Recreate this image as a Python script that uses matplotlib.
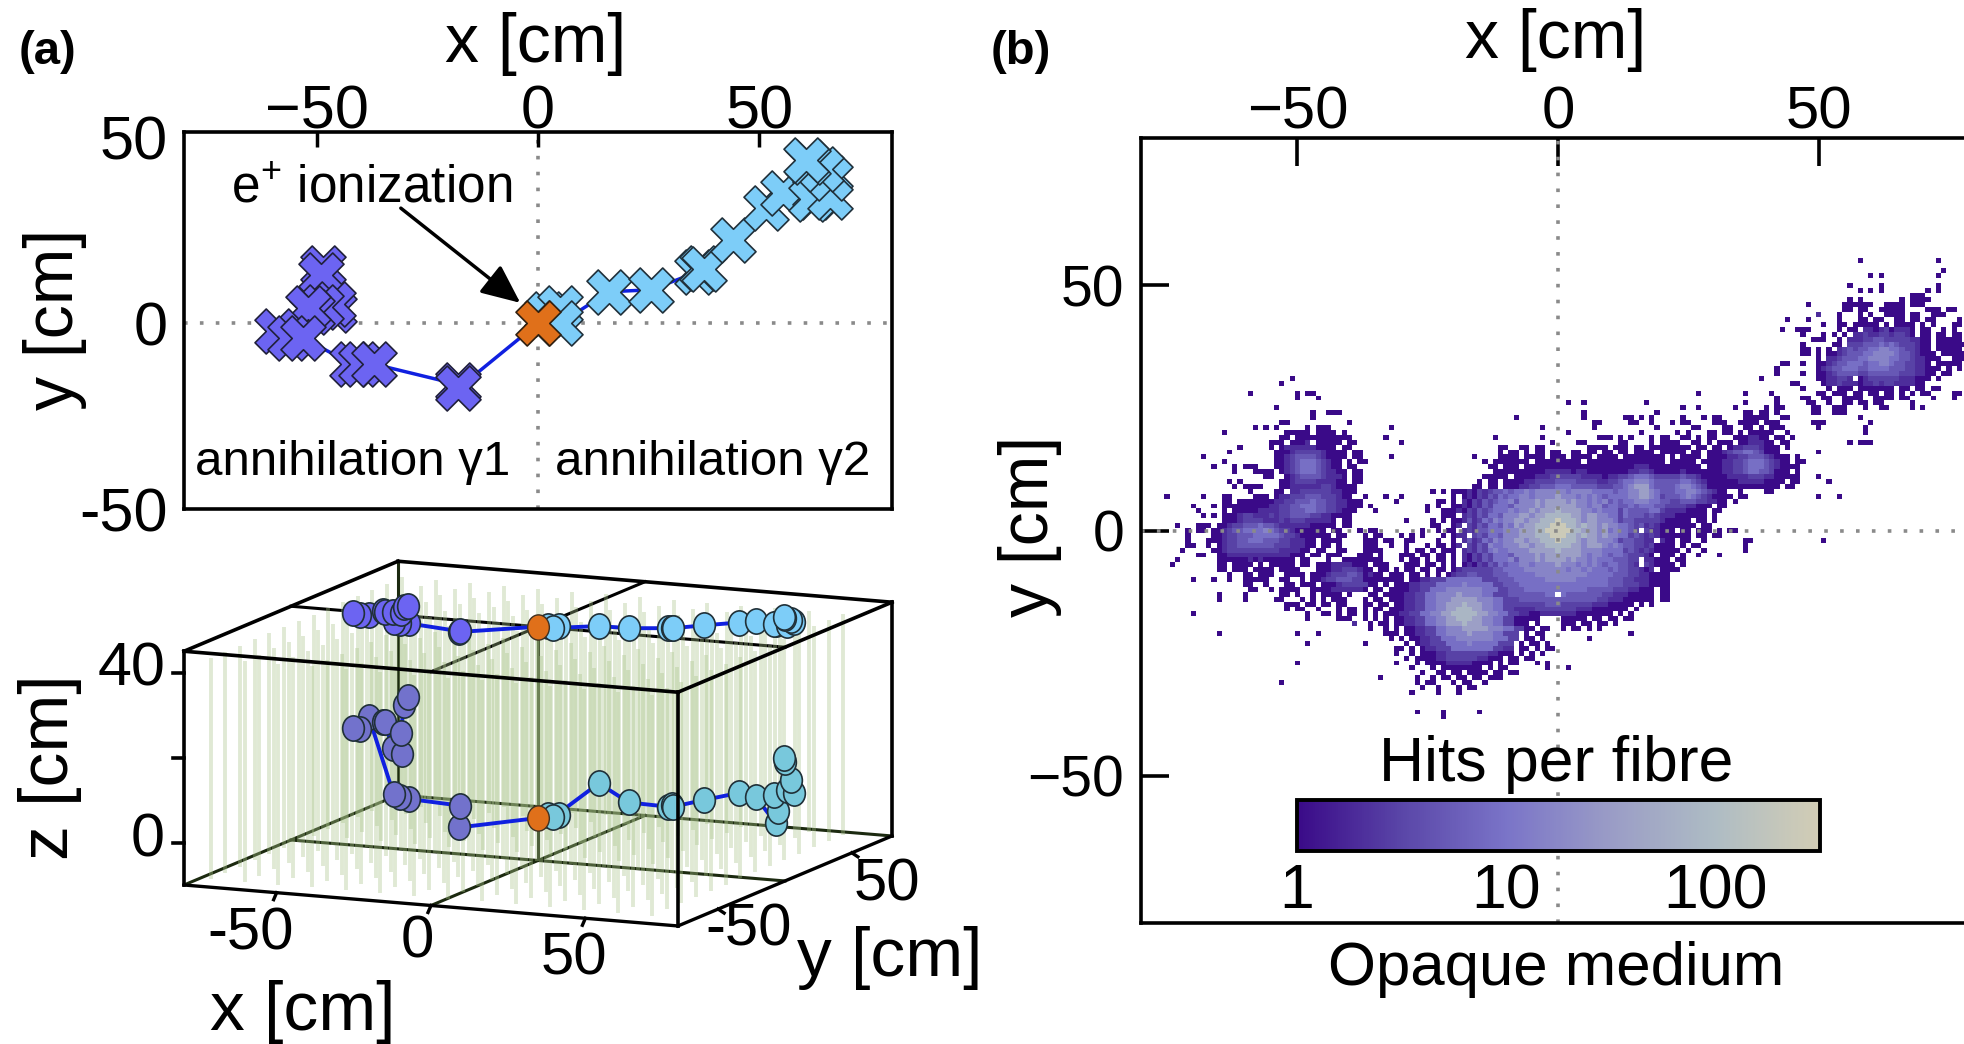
#!/usr/bin/env python3
# -*- coding: utf-8 -*-
import matplotlib
matplotlib.use('Agg')
import matplotlib.pyplot as plt
import numpy as np
from matplotlib.colors import LinearSegmentedColormap, LogNorm
from matplotlib.markers import MarkerStyle
from matplotlib.transforms import Affine2D

plt.rcParams['font.family'] = ['Liberation Sans', 'DejaVu Sans']
plt.rcParams['mathtext.default'] = 'regular'

W, H = 1965, 1044

# Photon tracks: x, y, z [cm]. Top view uses x and y, 3D view uses all three
orange_xyz = [0, 0, 0]
g1_x = [-18, -18, -37, -40, -42, -53, -56, -59, -52, -51, -49, -46.3, -46, -49, -48.5]
g1_y = [-17.5, -16.5, -11, -11, -11, -4, -4, -2, 4, 3, 4.4, 5.3, 3.5, 13, 14.8]
g1_z = [-1, 4, 3.7, 4, 4.5, 21, 18, 18, 19, 19, 13, 11.5, 16.7, 22, 23.5]
g2_x = [2, 5, 5, 16, 25.5, 36, 37, 37.5, 44, 51.6, 55.4, 62.3, 62.5, 61.8, 66, 66, 64, 61, 60.5]
g2_y = [2.5, 4, 0, 8.5, 9, 13.8, 15, 14.5, 22.5, 31, 35, 34, 35, 33.5, 34, 39, 41.6, 43.5, 44]
g2_z = [0.5, 0.5, 0.5, 8, 4, 3, 3.3, 3, 3.9, 4.9, 3.6, -2, 0.7, 4.6, 6, 4.7, 7.3, 11, 12]

# Fibre positions in the 3D view
fibre_x = [-74, -63, -52, -41, -30, -19, -8, 3, 14, 25, 36, 47, 58, 69]
fibre_y = [-74, -63, -52, -41, -30, -19, -8, 3, 14, 25, 36, 47, 58, 69]

# Hits per fibre: level index -> number of hits
hit_levels = [1, 1, 2, 3, 5, 9, 16, 35, 80, 250]

# Map of panel (b), read row by row: (y, first x, levels), '.' = no hits
heat_rows = [
    # upper right cloud
    (55, 58, '0'), (55, 73, '0'), (53, 74, '0'), (52, 60, '0.0'), (52, 73, '0'),
    (50, 56, '0'), (50, 62, '0'), (50, 73, '0'), (49, 58, '0.0.0'), (49, 71, '0.0'),
    (48, 68, '000'), (47, 56, '0.0'), (47, 66, '0.0000'),
    (46, 48, '0'), (46, 55, '000100'), (46, 63, '0000'), (46, 68, '000'),
    (45, 55, '00.00'), (45, 62, '00010'), (45, 71, '000'), (45, 75, '00'),
    (44, 50, '2'), (44, 54, '0'), (44, 58, '0.0'), (44, 63, '0110.00'), (44, 72, '000'),
    (43, 44, '0'), (43, 48, '0'), (43, 54, '0'), (43, 58, '00.00'), (43, 65, '01.00.00'), (43, 77, '0'),
    (42, 51, '0'), (42, 54, '00'), (42, 57, '00010.1.0010.0'), (42, 72, '0.'), (42, 76, '00'),
    (41, 43, '0'), (41, 46, '000'), (41, 54, '0.11.2212312221.10'), (41, 74, '0.0'),
    (40, 47, '1'), (40, 51, '0.0.1.223223323321.11.00.00'),
    (39, 49, '000'), (39, 54, '0.2223344333332211.10000.0'),
    (38, 47, '0'), (38, 53, '01.3334445454333211.00000'), (38, 78, '0'),
    (37, 47, '00.0'), (37, 52, '1.234344556655433211'), (37, 73, '00000'),
    (36, 47, '00.0.012344455666654432110.00000.0'),
    (35, 50, '1.2234445566665544322110'), (35, 76, '000'),
    (34, 43, '00'), (34, 47, '0'), (34, 50, '1123445554556654433221.00000'),
    (33, 42, '0'), (33, 50, '123445554455554443322100.0.0'),
    (32, 42, '0'), (32, 47, '0'), (32, 50, '11234444334444443332211.00'),
    (31, -51, '0'), (31, 39, '0'), (31, 50, '1122332.12333333222110.0'),
    (30, -53, '0'), (30, 45, '00'), (30, 51, '12232221223233222211'),
    (29, 47, '0'), (29, 52, '0.011.0011011.00.00.00'),
    (28, -59, '0'), (28, -50, '0.00'), (28, 27, '0'), (28, 36, '0'), (28, 41, '0'), (28, 50, '00.000.01.00.00.0.0.00'), (28, 76, '00'),
    (27, -50, '0'), (27, -46, '0'), (27, 42, '0'), (27, 47, '00'), (27, 51, '00'), (27, 55, '0000'), (27, 61, '0000.00'), (27, 72, '0'), (27, 76, '0'),
    (26, 2, '0'), (26, 5, '0'), (26, 17, '0'), (26, 36, '0'), (26, 42, '0'), (26, 48, '00'), (26, 52, '0'), (26, 55, '00.00'), (26, 61, '00'), (26, 68, '0'),
    (25, -54, '0'), (25, 24, '1'), (25, 27, '0'), (25, 34, '1'), (25, 40, '0'), (25, 42, '00'), (25, 49, '00'), (25, 53, '000'), (25, 59, '0'), (25, 62, '00'), (25, 68, '0'), (25, 70, '0'),
    (24, -47, '0'), (24, -44, '000'), (24, 5, '0'), (24, 19, '0'), (24, 36, '00.00'), (24, 42, '0'), (24, 49, '00'), (24, 53, '000'),
    (23, -47, '0'), (23, -8, '0'), (23, 5, '0'), (23, 13, '00'), (23, 16, '0.0'), (23, 24, '0'), (23, 28, '0.00'), (23, 36, '00100'), (23, 43, '00'), (23, 58, '0'),
    (22, -53, '00'), (22, -40, '0'), (22, 7, '00'), (22, 14, '00'), (22, 18, '0'), (22, 22, '0.00'), (22, 30, '000'), (22, 35, '0010.000'), (22, 49, '000'), (22, 60, '0'),
    (21, -58, '0'), (21, -56, '0'), (21, -54, '0'), (21, -48, '0'), (21, -46, '000'), (21, -32, '0'), (21, -3, '0'), (21, 7, '0'), (21, 19, '1'), (21, 26, '00'), (21, 32, '00'), (21, 36, '00.1.000'), (21, 50, '0'), (21, 59, '0'),
    (20, -64, '0'), (20, -52, '000'), (20, -49, '00'), (20, -46, '0000'), (20, -41, '1'), (20, 2, '0'), (20, 16, '0'), (20, 23, '0.0'), (20, 29, '00.00'), (20, 35, '0.11100'), (20, 44, '0'), (20, 59, '0'),
    (19, -53, '00.0000'), (19, -46, '0010100'), (19, -33, '0'), (19, -12, '0'), (19, -3, '0'), (19, 8, '000'), (19, 12, '0.0'), (19, 18, '0.00'), (19, 24, '00.0.00'), (19, 34, '0112211.00'), (19, 45, '0'),
    (18, -55, '000.1112.10100.00'), (18, -30, '0'), (18, -1, '0'), (18, 4, '00'), (18, 12, '00'), (18, 18, '0.00'), (18, 22, '00'), (18, 26, '00.0.001'), (18, 35, '0122210'), (18, 43, '00'), (18, 56, '0'), (18, 58, '000'),

    # left clusters and the dark fringe above the centre
    (17, -61, '0'), (17, -55, '0.12222221100.00'), (17, -11, '00'), (17, -7, '00'), (17, -4, '00'), (17, 6, '0000'), (17, 11, '000.00.00100110'), (17, 27, '00'), (17, 30, '00.1223332100'), (17, 44, '0'),
    (16, -63, '0'), (16, -54, '00123333321100.00'), (16, -11, '0.0'), (16, -8, '0.0.00.00'), (16, 3, '00.00.00.11.00'), (16, 17, '01.01000.00'), (16, 29, '00123445543100'), (16, 50, '0'),
    (15, -68, '0'), (15, -54, '01234444321000.00'), (15, -32, '0'), (15, -16, '0'), (15, -11, '00'), (15, -9, '00.0000.00'), (15, 1, '0.0010.010'), (15, 11, '0.10011101.0'), (15, 23, '.0100.00'), (15, 31, '012233'), (15, 37, '444'), (15, 40, '32100.0'),
    (14, -64, '0'), (14, -54, '0123455543210.0.0'), (14, -37, '0'), (14, -14, '0.00000'), (14, -8, '000.00100'), (14, 1, '0001.00100'), (14, 11, '0010111100.1'), (14, 23, '0011.010'), (14, 31, '122334'), (14, 37, '555'), (14, 40, '43210.00'),
    (13, -66, '0'), (13, -62, '0'), (13, -60, '000'), (13, -54, '0123455543210.00'), (13, -13, '00.00'), (13, -8, '0.0011011'), (13, 1, '1101101100'), (13, 11, '101122211101'), (13, 23, '11110.01'), (13, 31, '122334'), (13, 37, '555'), (13, 40, '4321000'),
    (12, -62, '0'), (12, -58, '0000'), (12, -53, '1234555432210.00'), (12, -12, '0000'), (12, -8, '000111222'), (12, 1, '2212211101'), (12, 11, '111223321111'), (12, 23, '12111001'), (12, 31, '122334'), (12, 37, '554'), (12, 40, '43110.0'),
    (11, -56, '00'), (11, -52, '123444432221.00'), (11, -14, '00000.'), (11, -8, '001122233'), (11, 1, '3333222212'), (11, 11, '233455543333'), (11, 23, '34332111'), (11, 31, '112222'), (11, 37, '333'), (11, 40, '2211000'), (11, 50, '0'),
    (10, -63, '0'), (10, -61, '0'), (10, -53, '0123333222211.00'), (10, -15, '0.00.00'), (10, -8, '012233334'), (10, 1, '4443333223'), (10, 11, '345566654444'), (10, 23, '45543211'), (10, 31, '111122'), (10, 37, '222'), (10, 40, '1100.00'), (10, 52, '0'),
    (9, -62, '0'), (9, -60, '000'), (9, -57, '0'), (9, -53, '012222223321100'), (9, -16, '00.00.00'), (9, -8, '122334445'), (9, 1, '5544444333'), (9, 11, '445677754444'), (9, 23, '56654311'), (9, 31, '011111'), (9, 37, '111'), (9, 40, '000.00'),
    (8, -59, '0'), (8, -54, '00.2233333322100'), (8, -24, '0.0'), (8, -20, '011213234454556566666'), (8, 1, '656666555545566776544'), (8, 22, '45566543210..0'), (8, 40, '00'),
    (7, -75, '0'), (7, -68, '0'), (7, -64, '00'), (7, -58, '000.122333444333210'), (7, -37, '0'), (7, -33, '0'), (7, -30, '0'), (7, -20, '1.1213243545566566667'), (7, 1, '666565654555566776534'), (7, 22, '445654321000.00'), (7, 50, '0'), (7, 54, '0'),
    (6, -64, '00.0000'), (6, -57, '00122334445443322100'), (6, -31, '0'), (6, -23, '00'), (6, -20, '1.2132434556466676777'), (6, 1, '767665656454556665544'), (6, 22, '33444332210.0'),
    (5, -70, '0'), (5, -66, '0'), (5, -64, '0000100'), (5, -57, '01223344555443322100'), (5, -36, '0'), (5, -25, '0'), (5, -23, '0'), (5, -20, '102132435554666676777'), (5, 1, '777665664554454555443'), (5, 22, '33322110.00'),
    (4, -69, '0'), (4, -64, '0.01111'), (4, -57, '2222334445544332100'), (4, -35, '0'), (4, -25, '0'), (4, -22, '00'), (4, -20, '120324345556566767778'), (4, 1, '777766565553544445532'), (4, 22, '2221100.00'),
    (3, -68, '0'), (3, -66, '0'), (3, -64, '00123322'), (3, -56, '23233444433221000'), (3, -22, '00'), (3, -20, '1.2324355466677677888'), (3, 1, '887767766553544434322'), (3, 22, '2111000.0'),
    (2, -64, '00123333'), (2, -56, '22232333222221.00'), (2, -29, '0'), (2, -24, '0.0'), (2, -20, '112423546566776778889'), (2, 1, '888767766653443333321'), (2, 22, '1100.00.0'),
    (1, -73, '0'), (1, -69, '000'), (1, -65, '012334445'), (1, -56, '44322222211110.00'), (1, -24, '00.'), (1, -20, '12.324355465767788899'), (1, 1, '988787767665543423211'), (1, 22, '11100.00'),
    (0, -71, '0'), (0, -69, '00'), (0, -66, '01234455556'), (0, -55, '54332111110.00'), (0, -38, '0.00'), (0, -26, '0'), (0, -23, '0.0'), (0, -20, '1.2324455566677788999'), (0, 1, '998877767565543.32211'), (0, 22, '1.00.000.0.00'),
    (-1, -71, '0'), (-1, -66, '0123344455555'), (-1, -53, '4332111111.10'), (-1, -37, '0.00'), (-1, -30, '0'), (-1, -28, '0'), (-1, -26, '0'), (-1, -22, '0.'), (-1, -20, '122.34355466677788899'), (-1, 1, '988787767665534323201'), (-1, 22, '1000.00.'), (-1, 30, '00'),
    (-2, -71, '0'), (-2, -67, '00123344555'), (-2, -56, '4443322211.00'), (-2, -43, '00'), (-2, -37, '000'), (-2, -33, '00'), (-2, -29, '00'), (-2, -23, '0'), (-2, -20, '1.2423546566776778889'), (-2, 1, '888767766653443322.21'), (-2, 22, '0.00'), (-2, 28, '0'), (-2, 36, '00'), (-2, 51, '0'),
    (-3, -71, '00'), (-3, -67, '0.12334444'), (-3, -57, '44433322211.00'), (-3, -42, '0'), (-3, -37, '000'), (-3, -32, '1'), (-3, -29, '0'), (-3, -25, '0.00'), (-3, -20, '02.324365566677677888'), (-3, 1, '887767776565443323110'), (-3, 22, '0.0.00'), (-3, 36, '0'),
    (-4, -72, '0'), (-4, -66, '012333333'), (-4, -57, '3333222211.00'), (-4, -42, '00'), (-4, -37, '0000'), (-4, -29, '0'), (-4, -27, '00'), (-4, -24, '0.00'), (-4, -20, '1.2324356556666777778'), (-4, 1, '777766665555343232101'), (-4, 22, '00.0'), (-4, 28, '0'), (-4, 36, '0'),
    (-5, -69, '11'), (-5, -65, '01222222'), (-5, -57, '222222111.00'), (-5, -44, '00'), (-5, -42, '0'), (-5, -38, '000'), (-5, -34, '0'), (-5, -30, '000'), (-5, -26, '00'), (-5, -23, '00.'), (-5, -20, '1.2132435554666676777'), (-5, 1, '777765665455433321.11'), (-5, 22, '0.0'), (-5, 27, '0'), (-5, 31, '0'),
    (-6, -73, '0'), (-6, -65, '0011112'), (-6, -58, '12111111.00'), (-6, -44, '0'), (-6, -41, '001100'), (-6, -35, '00'), (-6, -30, '0.00'), (-6, -25, '0.00'), (-6, -20, '0.2132435556466676777'), (-6, 1, '767665655544433.22110'), (-6, 22, '.0'), (-6, 24, '0'),
    (-7, -74, '0'), (-7, -65, '00.0011'), (-7, -57, '1.00100'), (-7, -49, '00'), (-7, -46, '0012222100'), (-7, -35, '000'), (-7, -29, '000'), (-7, -25, '00'), (-7, -22, '0.'), (-7, -20, '1.1213243545566566667'), (-7, 1, '666565654554432.32101'), (-7, 22, '0.0'),

    # lower band joining the centre and the lower cluster
    (-8, -65, '00.00'), (-8, -60, '0.1010'), (-8, -53, '0000'), (-8, -46, '00122333221.00'), (-8, -37, '00.0..0.00.00.00.'), (-8, -20, '123333334455556666666'), (-8, 1, '656656555454433212.10'), (-8, 22, '00'),
    (-9, -63, '0'), (-9, -60, '00'), (-9, -57, '000'), (-9, -52, '0000'), (-9, -47, '00123334433210.00'), (-9, -37, '0.00.000.00.0.0.1'), (-9, -20, '233443334445555566666'), (-9, 1, '666665555544433221100'),
    (-10, -70, '0'), (-10, -66, '1'), (-10, -63, '1'), (-10, -60, '000'), (-10, -57, '00'), (-10, -53, '00'), (-10, -49, '0.01233444332100.0'), (-10, -37, '0.0.0.00.01223335'), (-10, -20, '555555333444555555666'), (-10, 1, '666555555444332221000'),
    (-11, -60, '00'), (-11, -56, '0'), (-11, -52, '00.000'), (-11, -45, '00123333322.0'), (-11, -37, '.00.0.00122333555556555553344455555555'), (-11, 1, '555555555444333221000'),
    (-12, -59, '00'), (-12, -55, '0.0000'), (-12, -47, '00112222221.'), (-12, -37, '0.00.001122335556666666555334445555555'), (-12, 1, '555554444433322110.00'),
    (-13, -65, '0'), (-13, -60, '0'), (-13, -53, '00.0'), (-13, -47, '0'), (-13, -45, '0111.1'), (-13, -37, '.00.00112233556666766665533344444 4455'.replace(' ', '')), (-13, 1, '544444443322211100.00'),
    (-14, -65, '0'), (-14, -60, '0'), (-14, -54, '00'), (-14, -49, '0.0'), (-14, -45, '0.000'), (-14, -37, '0.00.011223355666777776665533344444444'), (-14, 1, '444444433222111000.00'),
    (-15, -52, '000'), (-15, -48, '00'), (-15, -45, '00.00'), (-15, -37, '00.00.11223355667778777665533333333444'), (-15, 1, '33333322211100.0.0'),
    (-16, -52, '0.00'), (-16, -46, '0'), (-16, -42, '0.00'), (-16, -37, '0.00.011223355667788877665533222233333'), (-16, 1, '3332221110000.0'),
    (-17, -70, '0'), (-17, -48, '0'), (-17, -45, '00'), (-17, -42, '0.00'), (-17, -37, '0.0.0112233556677888887766553322112222'), (-17, 1, '2221110000.0.0'),
    (-18, -48, '0'), (-18, -42, '000'), (-18, -37, '0.0.0.1122335566778887766553311111'), (-18, 1, '11100.00.00.00'),
    (-19, -39, '2'), (-19, -37, '.0.00.11223355667778777665533001.0'), (-19, 1, '000.00.00.0'),
    (-20, -36, '0'), (-20, -33, '0'), (-20, -31, '0.1122335566677777666553300.00'), (-20, 1, '0.00.0.0'),
    (-21, -65, '0'), (-21, -50, '0'), (-21, -46, '0'), (-21, -33, '00'), (-21, -31, '0.1122335566667666655333.0.00'), (-21, 14, '0'),
    (-22, -33, '.0'), (-22, -30, '0.112233555666666655533.00.0'), (-22, 6, '0'),
    (-23, -37, '0'), (-23, -48, '0'), (-23, -29, '0.1223335555655555333.0.00.0'),
    (-24, -31, '00'), (-24, -28, '0.122333555555553322.00.0.00'),
    (-25, -31, '0'), (-25, -28, '0.011223333333322110.0.0.0'),
    (-26, -29, '0.00112233333322100.00.00'),
    (-27, -50, '0'), (-27, -31, '0'), (-27, -27, '0.0011222221100.0.00'), (-27, -4, '0.0'),
    (-28, -28, '0'), (-28, -24, '0.01111110.0.00'), (-28, -2, '0'), (-28, 2, '0'),
    (-29, -26, '0'), (-29, -23, '00.00.0000.00'), (-29, -9, '00'),
    (-30, -34, '0'), (-30, -27, '0'), (-30, -24, '0.00.00.00.000'),
    (-31, -53, '0'), (-31, -27, '0'), (-31, -25, '00'), (-31, -20, '0.00'), (-31, -14, '0'),
    (-32, -26, '0'), (-32, -23, '0'), (-32, -19, '0.00'),
    (-33, -28, '0'), (-33, -23, '0'), (-33, -19, '0'),
    (-37, -27, '0'), (-37, -22, '0'), (-37, -15, '0'), (-38, -22, '0'),
]

# Colours
cmap_hits = LinearSegmentedColormap.from_list(
    'hits', ['#3a0a88', '#5a46a8', '#7a74c8', '#9a9cc6', '#aebcc4', '#d2cdb5'])
c_g1 = '#6c64f2'
c_g2 = '#7dcdf8'
c_g1_low = '#7272cc'
c_g2_low = '#78c8dc'
c_e = '#e0701a'
c_line = '#1020e0'
c_fibre = '#a9c48a'
dot_kw = dict(color='#8a8a8a', lw=2.6, ls=(0, (1, 3.4)))


def ax_rect(left, top, right, bottom):
    return [left / W, 1 - bottom / H, (right - left) / W, (bottom - top) / H]


def label(px, py, s, size=42, **kw):
    kw.setdefault('ha', 'center')
    kw.setdefault('va', 'center')
    fig.text(px / W, 1 - py / H, s, fontsize=size, **kw)


fig = plt.figure(figsize=(W / 100, H / 100), dpi=100)

# ---- (a) top view ----
ax = fig.add_axes(ax_rect(184, 132, 892, 509))
ax.plot([0] + g1_x, [0] + g1_y, color=c_line, lw=2.5, zorder=2)
ax.plot([0] + g2_x, [0] + g2_y, color=c_line, lw=2.5, zorder=2)
ax.axhline(0, zorder=1, **dot_kw)
ax.axvline(0, zorder=1, **dot_kw)
ax.scatter(g1_x[::-1], g1_y[::-1], marker='X', s=1050, color=c_g1, edgecolor='#20203a', lw=1.2, zorder=3)
ax.scatter(g2_x, g2_y, marker='X', s=1050, color=c_g2, edgecolor='#20303a', lw=1.2, zorder=3)
ax.scatter(orange_xyz[:1], orange_xyz[1:2], marker='X', s=1050, color=c_e, edgecolor='#302010', lw=1.2, zorder=4)
ax.set_xlim(-80, 80)
ax.set_ylim(-50, 51.5)
ax.xaxis.tick_top()
ax.set_xticks([-50, 0, 50])
ax.set_xticklabels(['\u221250', '0', '50'], fontsize=44)
ax.set_yticks([-50, 0, 50])
ax.set_yticklabels(['-50', '0', '50'], fontsize=44)
ax.tick_params(axis='x', direction='in', length=11, width=2.5, pad=-7)
ax.tick_params(axis='y', length=0, pad=12)
for s in ax.spines.values():
    s.set_linewidth(2.6)
ax.annotate('', xy=(-4, 5.5), xytext=(-31, 31),
            arrowprops=dict(arrowstyle='-|>,head_width=0.38,head_length=0.85', color='k', lw=2.5,
                            mutation_scale=28, shrinkA=0, shrinkB=0), zorder=5)
ax.text(-37.5, 36.2, 'e$^{+}$ ionization', fontsize=37, ha='center', va='center', zorder=6)
ax.text(-42, -37.5, 'annihilation \u03b31', fontsize=35.5, ha='center', va='center', zorder=6)
ax.text(39.5, -37.5, 'annihilation \u03b32', fontsize=35.5, ha='center', va='center', zorder=6)

# ---- (a) 3D view, parallel projection onto an overlay in pixels ----
ax3 = fig.add_axes([0, 0, 1, 1], zorder=-1)
ax3.set_xlim(0, W)
ax3.set_ylim(H, 0)
ax3.axis('off')


def project(x, y, z):
    x, y, z = np.asarray(x, float), np.asarray(y, float), np.asarray(z, float)
    px = 184 + (x + 80) * 3.0875 + (y + 80) * 1.3375
    py = 885 + (x + 80) * 0.256 - (y + 80) * 0.5625 - (z + 10) * 4.25
    return px, py


def seg(p0, p1, **kw):
    a, b = project(*p0), project(*p1)
    ax3.plot([a[0], b[0]], [a[1], b[1]], solid_capstyle='projecting', **kw)


zlo, zhi = -10, 45
box = dict(color='k', lw=2.6, zorder=7)
inner = dict(color='#1c2a10', lw=2.2, zorder=3)
# floor and ceiling outlines
for z in (zlo, zhi):
    zo = box if z == zhi else dict(box, lw=2.4)
    seg((-80, -80, z), (80, -80, z), **zo)
    seg((80, -80, z), (80, 80, z), **zo)
    seg((-80, 80, z), (80, 80, z), **(box if z == zhi else inner))
    seg((-80, -80, z), (-80, 80, z), **(box if z == zhi else inner))
    seg((0, -80, z), (0, 80, z), **(inner if z == zlo else dict(inner, color='k', zorder=1)))
    seg((-80, 0, z), (80, 0, z), **(inner if z == zlo else dict(inner, color='k', zorder=1)))
seg((-80, -80, zlo), (-80, -80, zhi), **box)
seg((80, -80, zlo), (80, -80, zhi), **box)
seg((80, 80, zlo), (80, 80, zhi), **box)
seg((-80, 80, zlo), (-80, 80, zhi), **inner)
seg((0, 0, zlo), (0, 0, zhi), **inner)
# ticks
for v in (-50, 0, 50):
    a = project(v, -80, zlo)
    ax3.plot([a[0], a[0] - 3], [a[1], a[1] + 7], color='k', lw=2.4, zorder=7, clip_on=False)
for v in (-50, 50):
    a = project(80, v, zlo)
    ax3.plot([a[0], a[0] + 6], [a[1], a[1] + 4], color='k', lw=2.4, zorder=7)
for v in (0, 20, 40):
    a = project(-80, -80, v)
    ax3.plot([a[0], a[0] - 11], [a[1], a[1]], color='k', lw=2.6, zorder=7)
# fibres
fx, fy = np.meshgrid(fibre_x, fibre_y)
px, py0 = project(fx.ravel(), fy.ravel(), np.full(fx.size, zlo + 1))
_, py1 = project(fx.ravel(), fy.ravel(), np.full(fx.size, zhi - 2))
ax3.vlines(px, py0, py1, color=c_fibre, lw=2.8, alpha=0.36, zorder=4)
# track in the volume and its image on the ceiling
ell = MarkerStyle('o', transform=Affine2D().scale(0.86, 1.0))
for zs, colors in ((None, (c_g1_low, c_g2_low)), (zhi, (c_g1, c_g2))):
    for gx, gy, gz, col in ((g1_x, g1_y, g1_z, colors[0]), (g2_x, g2_y, g2_z, colors[1])):
        z = np.full(len(gx), zs) if zs is not None else np.array(gz)
        qx, qy = project(gx, gy, z)
        x0, y0 = project(0, 0, 0 if zs is None else zhi)
        ax3.plot(np.r_[x0, qx], np.r_[y0, qy], color=c_line, lw=2.8, zorder=4.5)
        ax3.scatter(qx, qy, marker=ell, s=330, color=col, edgecolor='#203038', lw=1.2, zorder=5)
    x0, y0 = project(orange_xyz[0], orange_xyz[1], orange_xyz[2] if zs is None else zhi)
    ax3.scatter([x0], [y0], marker=ell, s=330, color=c_e, edgecolor='#403020', lw=1.0, zorder=6)

label(251, 934, '-50', 43)
label(417, 942, '0', 43)
label(574, 959, '50', 43)
label(749, 930, '-50', 43)
label(887, 885, '50', 43)
label(132, 670, '40', 44)
label(148, 841, '0', 44)
label(303, 1012, 'x [cm]', 50)
label(890, 958, 'y [cm]', 50)
label(50, 767, 'z [cm]', 50, rotation=90)
label(536, 44, 'x [cm]', 49)
label(55, 319, 'y [cm]', 49, rotation=90)
label(48, 52, '(a)', 34, fontweight='bold')
label(1021, 52, '(b)', 34, fontweight='bold')

# ---- (b) hits map ----
axb = fig.add_axes(ax_rect(1141, 138, 1975, 923))
grid = np.full((161, 161), np.nan)
for row_y, x0, levels in heat_rows:
    for i, ch in enumerate(levels):
        if ch != '.' and x0 + i <= 80:
            grid[row_y + 80, x0 + i + 80] = hit_levels[int(ch)]
edges = np.arange(-80.5, 81.5)
norm = LogNorm(1, 316)
mesh = axb.pcolormesh(edges, edges, np.ma.masked_invalid(grid), cmap=cmap_hits, norm=norm, zorder=1)
axb.axhline(0, zorder=2, **dot_kw)
axb.axvline(0, zorder=2, **dot_kw)
axb.set_xlim(-80, 80)
axb.set_ylim(-80, 80)
axb.xaxis.tick_top()
axb.set_xticks([-50, 0, 50])
axb.set_xticklabels(['\u221250', '0', '50'], fontsize=43)
axb.set_yticks([-50, 0, 50])
axb.set_yticklabels(['\u221250', '0', '50'], fontsize=41)
axb.tick_params(axis='x', direction='in', length=20, width=2.6, pad=-2)
axb.tick_params(axis='y', direction='in', length=20, width=2.6, pad=12)
for s in axb.spines.values():
    s.set_linewidth(2.6)

cax = fig.add_axes(ax_rect(1297, 800, 1820, 851), zorder=3)
cb = fig.colorbar(mesh, cax=cax, orientation='horizontal')
cb.set_ticks([1, 10, 100])
cb.set_ticklabels(['1', '10', '100'], fontsize=45)
cb.minorticks_off()
cax.tick_params(length=0, pad=8)
cb.outline.set_linewidth(2.8)
label(1556, 764, 'Hits per fibre', 45)
label(1556, 969, 'Opaque medium', 44.5)
label(1556, 40, 'x [cm]', 49)
label(1030, 526, 'y [cm]', 49, rotation=90)

fig.savefig('out.png', dpi=100)
